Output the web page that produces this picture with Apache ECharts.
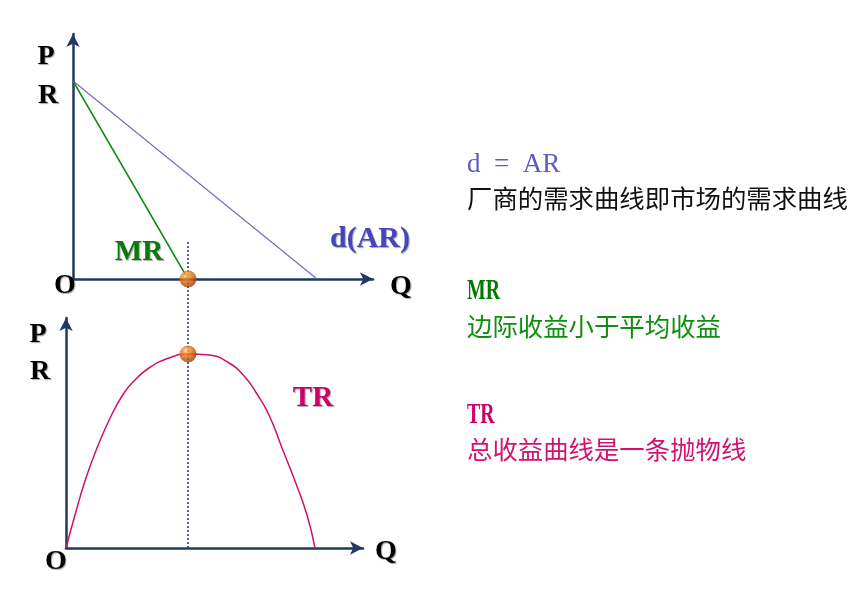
<!DOCTYPE html>
<html><head><meta charset="utf-8">
<script src="https://cdn.jsdelivr.net/npm/echarts@6/dist/echarts.min.js"></script>
<style>html,body{margin:0;padding:0;background:#fff}#c{width:855px;height:594px}</style>
</head><body><div id="c"></div>
<script>
// ---- data (top panel: quantity vs price/revenue) ----
const arLine = [[0, 198], [244, 0]];          // d(AR) demand line
const mrLine = [[0, 198], [115, 0]];          // MR line
const mrZero = [[115, 0]];                    // MR = 0 point
// ---- data (bottom panel: total revenue) ----
const trCurve = [[0,0],[9,33],[19,67],[31,100],[46,134],[58,155],[68,167],[83,180],[103,190],[122,194],
                 [143,193],[163,185],[179,171],[191,154],[203,133],[216,100],[229,67],[241,33],[249,0]];
const trPeak = [[122, 194]];
const guideLine = [[122, 0], [122, 308]];     // vertical dotted guide at max TR
// ---- texts ----
const noteTitles = ['d  =  AR', 'MR', 'TR'];
const noteLines = ['厂商的需求曲线即市场的需求曲线', '边际收益小于平均收益', '总收益曲线是一条抛物线'];

const axisColor = '#1f3a60';
const ball = {
  type: 'radial', x: 0.38, y: 0.3, r: 0.72,
  colorStops: [
    {offset: 0, color: '#ffe6c0'}, {offset: 0.2, color: '#f59a38'},
    {offset: 0.6, color: '#d2620e'}, {offset: 1, color: '#8a3804'}
  ]
};
function axis(max, idx) {
  return {
    type: 'value', min: 0, max: max, gridIndex: idx,
    axisLine: {show: true, onZero: false, symbol: ['none', 'arrow'], symbolSize: [10, 13],
      lineStyle: {color: axisColor, width: 2.5}},
    axisTick: {show: false}, axisLabel: {show: false}, splitLine: {show: false}
  };
}
const shadow = {textShadowColor: 'rgba(0,0,0,0.35)', textShadowOffsetX: 1, textShadowOffsetY: 1, textShadowBlur: 1};
function lbl(text, x, y, color, size) {
  return {type: 'text', x: x, y: y, z: 100, style: Object.assign({
    text: text, x: 0, y: 0, fill: color, font: 'bold ' + (size || 28) + 'px "Liberation Serif"',
    textAlign: 'center', textVerticalAlign: 'middle'}, shadow)};
}
function note(text, y, color, font, sx) {
  return {type: 'text', x: 467, y: y, scaleX: sx || 1, z: 100, style: {text: text, x: 0, y: 0, fill: color,
    font: font, textAlign: 'left', textVerticalAlign: 'middle'}};
}

const chart = echarts.init(document.getElementById('c'), null, {renderer: 'canvas'});
chart.setOption({
  animation: false,
  backgroundColor: '#fff',
  grid: [
    {left: 73, top: 34, width: 300, height: 245},
    {left: 66, top: 318, width: 297, height: 230}
  ],
  xAxis: [axis(300, 0), axis(297, 1)],
  yAxis: [axis(245, 0), axis(230, 1)],
  series: [
    {type: 'line', xAxisIndex: 0, yAxisIndex: 0, data: arLine, symbol: 'none', silent: true,
      lineStyle: {color: '#7070c0', width: 1.2}, z: 3},
    {type: 'line', xAxisIndex: 0, yAxisIndex: 0, data: mrLine, symbol: 'none', silent: true,
      lineStyle: {color: '#108a10', width: 1.5}, z: 3},
    {type: 'line', xAxisIndex: 1, yAxisIndex: 1, data: guideLine, symbol: 'none', silent: true, clip: false,
      lineStyle: {color: axisColor, width: 1.5, type: [2, 2]}, z: 2},
    {type: 'line', xAxisIndex: 1, yAxisIndex: 1, data: trCurve, symbol: 'none', silent: true,
      smooth: 0.5,
      lineStyle: {color: '#d0106a', width: 1.5}, z: 3},
    {type: 'scatter', xAxisIndex: 0, yAxisIndex: 0, data: mrZero, symbolSize: 17, silent: true, clip: false,
      itemStyle: {color: ball}, z: 10},
    {type: 'scatter', xAxisIndex: 1, yAxisIndex: 1, data: trPeak, symbolSize: 17, silent: true, clip: false,
      itemStyle: {color: ball}, z: 10}
  ],
  graphic: [
    lbl('P', 46, 57, '#000'), lbl('R', 48, 96, '#000'), lbl('O', 65, 286, '#000'), lbl('Q', 401, 287, '#000'),
    lbl('MR', 139, 253, '#0a7a0a', 29), lbl('d(AR)', 370, 239, '#4545c0', 30),
    lbl('P', 38, 335, '#000'), lbl('R', 40, 372, '#000'), lbl('O', 56, 562, '#000'), lbl('Q', 386, 552, '#000'),
    lbl('TR', 313, 399, '#cc0066', 29),
    note(noteTitles[0], 165, '#5c5cc0', '27px "Liberation Serif"'),
    note(noteLines[0], 198, '#111', '25.4px "Noto Sans CJK SC"'),
    note(noteTitles[1], 291, '#007a00', 'bold 30px "Liberation Serif"', 0.66),
    note(noteLines[1], 326, '#0f8f0f', '25.4px "Noto Sans CJK SC"'),
    note(noteTitles[2], 415, '#cc0066', 'bold 30px "Liberation Serif"', 0.66),
    note(noteLines[2], 449, '#d0146e', '25.4px "Noto Sans CJK SC"')
  ]
});
</script></body></html>
